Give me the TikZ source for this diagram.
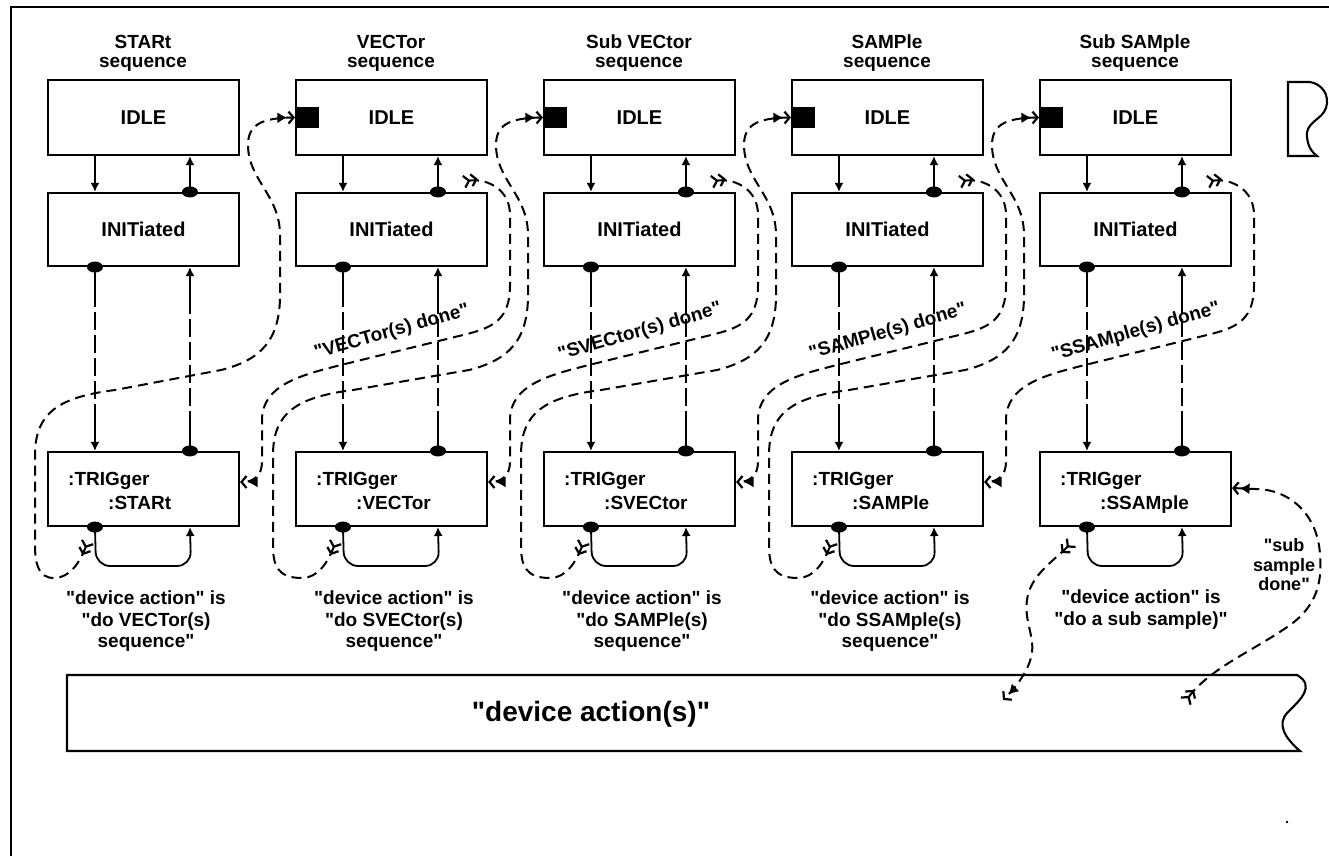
\documentclass[tikz,border=0pt]{standalone}
\usepackage{fontspec}
\setmainfont{Liberation Sans}[Ligatures=TeXOff]
\usetikzlibrary{arrows.meta,calc}
\begin{document}
\begin{tikzpicture}[x=1pt,y=-1pt,
  box/.style={draw,line width=2.1pt,minimum width=191pt,inner sep=0pt,
    font=\fontsize{20}{22}\selectfont\bfseries},
  lbl/.style={inner sep=0pt,font=\fontsize{19}{21}\selectfont\bfseries},
  slbl/.style={inner sep=0pt,font=\fontsize{18}{20}\selectfont\bfseries},
  blbl/.style={inner sep=0pt,font=\fontsize{28}{30}\selectfont\bfseries},
  sarrow/.style={line width=1.8pt,-{Latex[length=9pt,width=9pt]}},
  vdash/.style={line width=1.8pt,-{Latex[length=9pt,width=9pt]},
    dash pattern=on 40pt off 5pt on 18pt off 5pt on 18pt off 5pt on 18pt off 5pt on 18pt off 5pt on 80pt off 1pt},
  dsh/.style={line width=2pt,dash pattern=on 10pt off 6pt},
  dd/.style={{Straight Barb[reversed,length=5pt,width=12pt,line width=2.2pt]Straight Barb[reversed,length=5pt,width=12pt,line width=2.2pt]}-{Latex[length=10pt,width=11pt]Straight Barb[length=5pt,width=12pt,line width=2.2pt]}},
  dotf/.style={fill=black},
  frame/.style={line width=2.2pt},
]
\useasboundingbox (0,0) rectangle (1329,856);
% frame
\draw[frame] (11,856) -- (11,7) -- (1329,7);

\foreach \i/\ttl/\tg in {1/STARt/STARt,2/VECTor/VECTor,3/Sub VECtor/SVECtor,4/SAMPle/SAMPle,5/Sub SAMple/SSAMple} {
  \pgfmathsetmacro\L{48+248*(\i-1)}
  \node[box,minimum height=75pt] (idle\i) at (\L+95.5,117.5) {IDLE};
  \node[box,minimum height=73pt] (init\i) at (\L+95.5,229.5) {INITiated};
  \node[box,minimum height=74pt] (trig\i) at (\L+95.5,489) {};
  \node[lbl,anchor=base] (ta\i) at (\L+95,49) {\ttl};
  \node[lbl,anchor=base] (tb\i) at (\L+95,68) {sequence};
  \node[lbl,anchor=base west] (tc\i) at (\L+20,485) {:TRIGger};
  \node[lbl,anchor=base west] (td\i) at (\L+60,509) {:\tg};
  % idle <-> init
  \draw[sarrow] ([xshift=48pt]idle\i.south west) -- ([xshift=48pt]init\i.north west);
  \draw[sarrow] ([xshift=143pt]init\i.north west) -- ([xshift=143pt]idle\i.south west);
  % init <-> trig
  \draw[vdash] ([xshift=48pt]init\i.south west) -- ([xshift=48pt]trig\i.north west);
  \draw[vdash] ([xshift=143pt]trig\i.north west) -- ([xshift=143pt]init\i.south west);
  % loop
  \draw[sarrow,rounded corners=14pt] ([xshift=48pt]trig\i.south west) -- (\L+48,566) -- (\L+143,566) -- ([xshift=143pt]trig\i.south west);
  % dots
  \fill[dotf] ([xshift=143pt]init\i.north west) ellipse [x radius=8, y radius=5.5];
  \fill[dotf] ([xshift=48pt]init\i.south west) ellipse [x radius=8, y radius=5.5];
  \fill[dotf] ([xshift=143pt]trig\i.north west) ellipse [x radius=8, y radius=5.5];
  \fill[dotf] ([xshift=48pt]trig\i.south west) ellipse [x radius=8, y radius=5.5];
}

% black squares
\foreach \i in {2,3,4,5} {
  \pgfmathsetmacro\L{48+248*(\i-1)}
  \fill (\L,107) rectangle (\L+23,128);
}

% device action paths (col i -> IDLE of col i+1)
\foreach \i in {1,2,3,4} {
  \pgfmathsetmacro\L{48+248*(\i-1)}
  \pgfmathsetmacro\Ln{\L+248}
  \pgfmathsetmacro\xl{\i==1 ? 35 : \L-23}
  \pgfmathtruncatemacro\n{\i+1}
  \draw[dsh,dd] (\L+40,541) .. controls (\L+32,562) and (\L+22,578) .. (\L+6,578)
     .. controls (\xl+4,578) and (\xl,565) .. (\xl,545) -- (\xl,455)
     .. controls (\xl,412) and (\xl+25,397) .. (\xl+80,390) -- (\Ln-75,370)
     .. controls (\Ln-35,360) and (\Ln-16,340) .. (\Ln-16,295) -- (\Ln-16,235)
     .. controls (\Ln-16,195) and (\Ln-48,180) .. (\Ln-48,145)
     .. controls (\Ln-48,125) and (\Ln-35,118) .. (idle\n.west);
}

% done paths (col i -> TRIGger of col i-1)
\foreach \i/\txt in {2/VECTor(s),3/SVECtor(s),4/SAMPle(s),5/SSAMple(s)} {
  \pgfmathsetmacro\L{48+248*(\i-1)}
  \pgfmathsetmacro\R{\L+191}
  \pgfmathtruncatemacro\p{\i-1}
  \draw[dsh,dd] (\R-24,182) .. controls (\R-5,178) and (\R+23,186) .. (\R+23,215) -- (\R+23,285)
     .. controls (\R+23,318) and (\R+8,327) .. (\R-20,334) -- (\L+45,365)
     .. controls (\L+5,375) and (\L-34,385) .. (\L-34,420) -- (\L-34,462)
     .. controls (\L-34,475) and (\L-42,482) .. ($(trig\p.east)+(0,-7)$);
  \node[lbl,rotate=16] (dn\i) at (\L+96,332) {"\txt{} done"};
}

% bottom labels
\foreach \i/\ba/\bb in {1/{"do VECTor(s)}/{sequence"},2/{"do SVECtor(s)}/{sequence"},3/{"do SAMPle(s)}/{sequence"},4/{"do SSAMple(s)}/{sequence"}} {
  \pgfmathsetmacro\L{48+248*(\i-1)}
  \node[lbl,anchor=base] (ba\i) at (\L+98,604) {"device action" is};
  \node[lbl,anchor=base] (bb\i) at (\L+98,626) {\ba};
  \node[lbl,anchor=base] (bc\i) at (\L+98,647) {\bb};
}
\node[lbl,anchor=base] (ba5) at (1141,603) {"device action" is};
\node[lbl,anchor=base] (bb5) at (1141,625) {"do a sub sample)"};

% device action(s) box
\draw[line width=2.1pt] (1297,675) -- (67,675) -- (67,751) -- (1300,751)
  .. controls (1285,738) and (1276,724) .. (1288,712)
  .. controls (1300,700) and (1316,686) .. cycle;
\node[blbl] (dev) at (591,714) {"device action(s)"};
\coordinate (da1) at (1003,700);
\coordinate (da2) at (1185,702);

% col5 action to device action
\draw[dsh,dd] (1072,542) .. controls (1055,560) and (1030,575) .. (1027,600)
  .. controls (1024,620) and (1034,635) .. (1032,652)
  .. controls (1030,670) and (1015,688) .. (da1);
% sub sample done
\draw[dsh,dd] (da2) .. controls (1210,668) and (1255,650) .. (1290,625)
  .. controls (1318,605) and (1322,580) .. (1320,555)
  .. controls (1318,515) and (1290,489) .. (1255,489) -- ($(trig5.east)+(0,-1)$);
\node[slbl,anchor=base] (ss1) at (1284,551) {"sub};
\node[slbl,anchor=base] (ss2) at (1284,571) {sample};
\node[slbl,anchor=base] (ss3) at (1284,590) {done"};

% torn box at top right
\draw[line width=2.1pt] (1310,82) -- (1288,82) -- (1288,156) -- (1317,156)
  .. controls (1313,153) and (1308,148) .. (1307,137)
  .. controls (1305,122) and (1322,120) .. (1326,108)
  .. controls (1330,95) and (1322,84) .. cycle;

% speck
\fill (1287,822) circle [radius=1.3];
\end{tikzpicture}
\end{document}
